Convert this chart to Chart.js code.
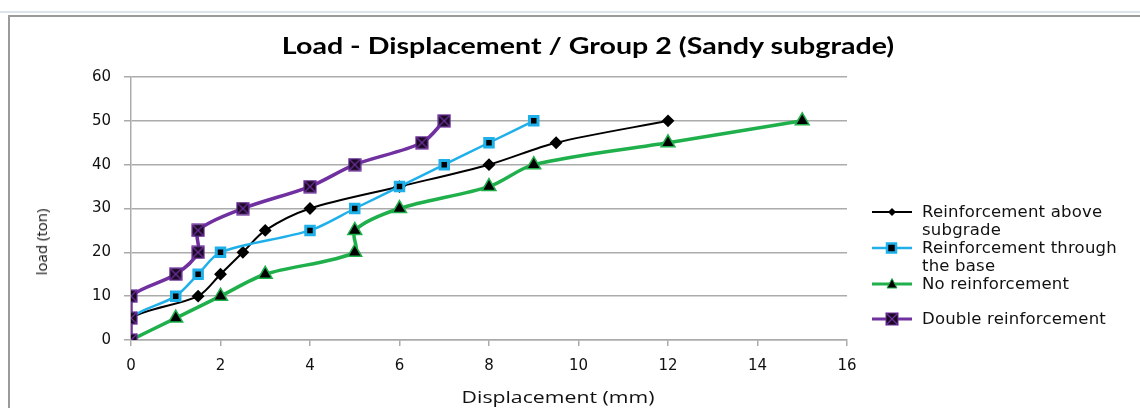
<!DOCTYPE html>
<html>
<head>
<meta charset="utf-8">
<script src="https://cdn.jsdelivr.net/npm/chart.js@4.4.1/dist/chart.umd.min.js"></script>
<style>
  html, body { margin: 0; padding: 0; background: #fff; }
  #wrap { position: relative; width: 1140px; height: 408px; overflow: hidden; }
  #ruler { position: absolute; left: 0; top: 11px; width: 1140px; height: 2px; background: #dde3ec; }
  #frame { position: absolute; left: 8px; top: 15px; width: 1140px; height: 400px;
           border-left: 2px solid #9a9a9a; border-top: 2px solid #9a9a9a; }
  canvas { position: absolute; left: 0; top: 0; }
  .txt { position: absolute; color: #111; white-space: nowrap; }
  #title { left: 588px; top: 45px; font: bold 22px "Lato", sans-serif; color: #000;
           transform: translate(-50%, -50%) scaleX(1.3); }
  #ytitle { left: 41px; top: 242px; font: 15px "Open Sans", sans-serif;
            transform: translate(-50%, -50%) rotate(-90deg); }
  #xtitle { left: 558px; top: 396px; font: 17px "Open Sans", sans-serif;
            transform: translate(-50%, -50%) scaleX(1.25); }
  #legend { position: absolute; left: 872px; top: 203px; width: 262px;
            font: 16.5px "DejaVu Sans", sans-serif; color: #111; letter-spacing: 0.2px; }
  .row { position: relative; padding-left: 50px; line-height: 18px; }
  .row svg { position: absolute; left: 0; top: 3px; }
</style>
</head>
<body>
<div id="wrap">
  <div id="ruler"></div>
  <div id="frame"></div>
  <canvas id="chart" width="1140" height="408"></canvas>
  <div class="txt" id="title">Load - Displacement / Group 2 (Sandy subgrade)</div>
  <div class="txt" id="ytitle">load (ton)</div>
  <div class="txt" id="xtitle">Displacement (mm)</div>
  <div id="legend"></div>
</div>
<script>
"use strict";

// displacement (mm) / load (ton) for each test
var aboveX  = [0, 0, 1.5, 2, 2.5, 3, 4, 6, 8, 9.5, 12];
var aboveY  = [0, 5, 10, 15, 20, 25, 30, 35, 40, 45, 50];
var baseX   = [0, 0, 1, 1.5, 2, 4, 5, 6, 7, 8, 9];
var baseY   = [0, 5, 10, 15, 20, 25, 30, 35, 40, 45, 50];
var noneX   = [0, 1, 2, 3, 5, 5, 6, 8, 9, 12, 15];
var noneY   = [0, 5, 10, 15, 20, 25, 30, 35, 40, 45, 50];
var doubleX = [0, 0, 0, 1, 1.5, 1.5, 2.5, 4, 5, 6.5, 7];
var doubleY = [0, 5, 10, 15, 20, 25, 30, 35, 40, 45, 50];

var seriesNames = ['Reinforcement above subgrade', 'Reinforcement through the base',
                   'No reinforcement', 'Double reinforcement'];
var xTicks = [0, 2, 4, 6, 8, 10, 12, 14, 16];
var yTicks = [0, 10, 20, 30, 40, 50, 60];

var colors = {
	black: '#000000',
	blue: '#1fb0ea',
	green: '#1fb04c',
	purple: '#7030a0',
	grid: '#ababab'
};

function pts(xs, ys) {
	return xs.map(function (x, i) { return {x: x, y: ys[i]}; });
}

// square with purple cross, Excel style marker
function crossBox(size) {
	var c = document.createElement('canvas');
	c.width = size; c.height = size;
	var g = c.getContext('2d');
	g.fillStyle = '#1a0a22';
	g.fillRect(1, 1, size - 2, size - 2);
	g.strokeStyle = colors.purple;
	g.lineWidth = 1.2;
	g.strokeRect(1, 1, size - 2, size - 2);
	g.beginPath();
	g.moveTo(1, 1); g.lineTo(size - 1, size - 1);
	g.moveTo(size - 1, 1); g.lineTo(1, size - 1);
	g.stroke();
	return c;
}

var datasets = [
	{
		label: seriesNames[0], data: pts(aboveX, aboveY),
		borderColor: colors.black, borderWidth: 2,
		pointStyle: 'rectRot', pointRadius: 5, pointBackgroundColor: '#000', pointBorderColor: '#000',
		order: 3
	},
	{
		label: seriesNames[1], data: pts(baseX, baseY),
		borderColor: colors.blue, borderWidth: 2.5,
		pointStyle: 'rect', pointRadius: 6, pointBackgroundColor: '#000',
		pointBorderColor: colors.blue, pointBorderWidth: 3,
		order: 2
	},
	{
		label: seriesNames[2], data: pts(noneX, noneY),
		borderColor: colors.green, borderWidth: 3.5,
		pointStyle: 'triangle', pointRadius: 8, pointBackgroundColor: '#000',
		pointBorderColor: colors.green, pointBorderWidth: 1.5,
		order: 1
	},
	{
		label: seriesNames[3], data: pts(doubleX, doubleY),
		borderColor: colors.purple, borderWidth: 3.5,
		pointStyle: crossBox(14), pointRadius: 7,
		order: 0
	}
];

datasets.forEach(function (d) {
	d.showLine = true;
	d.fill = false;
	d.tension = 0.3;
	d.backgroundColor = d.borderColor;
});

var ctx = document.getElementById('chart').getContext('2d');
var chart = new Chart(ctx, {
	type: 'scatter',
	data: {datasets: datasets},
	options: {
		responsive: false,
		animation: false,
		devicePixelRatio: 1,
		layout: {padding: {left: 0, top: 77, right: 293, bottom: 0}},
		plugins: {legend: {display: false}, title: {display: false}, tooltip: {enabled: false}},
		scales: {
			x: {
				type: 'linear', min: 0, max: 16,
				afterFit: function (s) { s.height = 68; },
				afterBuildTicks: function (s) { s.ticks = xTicks.map(function (v) { return {value: v}; }); },
				grid: {display: true, drawOnChartArea: false, tickLength: 6, color: colors.grid, lineWidth: 1.5},
				border: {color: colors.grid, width: 1.5},
				ticks: {color: '#111', font: {family: 'DejaVu Sans', size: 15}, padding: 11, maxRotation: 0}
			},
			y: {
				type: 'linear', min: 0, max: 60,
				afterFit: function (s) { s.width = 131; },
				afterBuildTicks: function (s) { s.ticks = yTicks.map(function (v) { return {value: v}; }); },
				grid: {color: colors.grid, lineWidth: 1.5, tickLength: 7},
				border: {color: colors.grid, width: 1.5},
				ticks: {color: '#111', font: {family: 'DejaVu Sans', size: 15}, padding: 13}
			}
		}
	}
});

// HTML legend with wrapped labels
var markers = [
	'<polygon points="20,1 24,5 20,9 16,5" fill="#000"/>',
	'<rect x="15" y="0.5" width="9" height="9" fill="#000" stroke="' + colors.blue + '" stroke-width="2.5"/>',
	'<polygon points="20,-0.5 25,9 15,9" fill="#000" stroke="' + colors.green + '" stroke-width="1"/>',
	'<rect x="14" y="-1" width="12" height="12" fill="#1a0a22" stroke="' + colors.purple + '" stroke-width="1"/>' +
	'<path d="M14,-1 L26,11 M26,-1 L14,11" stroke="' + colors.purple + '" stroke-width="1.3"/>'
];
var lineW = [2, 2.5, 3, 3];
var lineC = [colors.black, colors.blue, colors.green, colors.purple];
var legend = document.getElementById('legend');
seriesNames.forEach(function (name, i) {
	var row = document.createElement('div');
	row.className = 'row';
	if (i === 3) { row.style.marginTop = '17px'; }
	row.innerHTML = '<svg width="42" height="12" viewBox="0 0 42 10" overflow="visible">' +
		'<line x1="0" y1="5" x2="40" y2="5" stroke="' + lineC[i] + '" stroke-width="' + lineW[i] + '"/>' +
		markers[i] + '</svg>' + name;
	legend.appendChild(row);
});
</script>
</body>
</html>
